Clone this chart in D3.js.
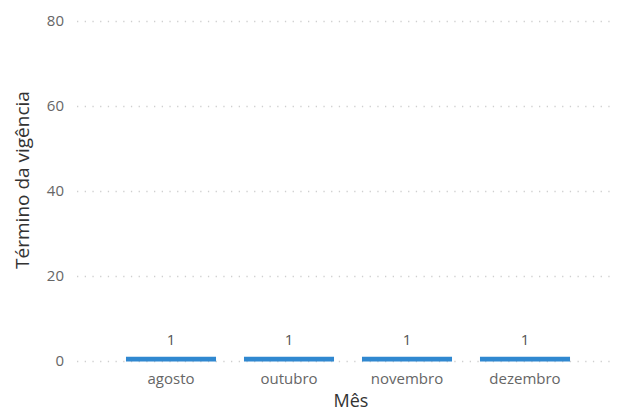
<!DOCTYPE html>
<html>
<head>
<meta charset="utf-8">
<script src="https://cdn.jsdelivr.net/npm/d3@7"></script>
<style>
  body { margin: 0; background: #fff; }
  svg { font-family: "Segoe UI", "Open Sans", sans-serif; }
</style>
</head>
<body>
<div id="Chart"></div>
<script>
// data
const MONTHS = ["agosto", "outubro", "novembro", "dezembro"];
const COUNTS = [1, 1, 1, 1];
const Y_TICKS = [0, 20, 40, 60, 80];

const WIDTH = 620;
const HEIGHT = 413;

const svg = d3.select("#Chart")
    .append("svg")
    .attr("width", WIDTH)
    .attr("height", HEIGHT);

const y = d3.scaleLinear()
    .domain([0, 80])
    .range([361, 21]);

const x = d3.scaleBand()
    .domain(MONTHS)
    .range([112, 584])
    .paddingInner(0.237)
    .paddingOuter(0.1185);

// gridlines
svg.append("g")
    .selectAll("line")
    .data(Y_TICKS)
    .join("line")
    .attr("x1", 77)
    .attr("x2", 612)
    .attr("y1", d => y(d) + 0.5)
    .attr("y2", d => y(d) + 0.5)
    .attr("stroke", "#cfcfcf")
    .attr("stroke-width", 1.3)
    .attr("stroke-dasharray", "1.3,6.4");

// y axis labels
svg.append("g")
    .selectAll("text")
    .data(Y_TICKS)
    .join("text")
    .attr("x", 64)
    .attr("y", d => y(d))
    .attr("dy", "0.35em")
    .attr("text-anchor", "end")
    .attr("fill", "#666")
    .style("font-size", "15px")
    .text(d => d);

// bars
svg.append("g")
    .selectAll("rect")
    .data(MONTHS)
    .join("rect")
    .attr("x", d => x(d))
    .attr("width", x.bandwidth())
    .attr("y", (d, i) => y(COUNTS[i]))
    .attr("height", (d, i) => y(0) - y(COUNTS[i]) + 0.5)
    .attr("fill", "#3088d0");

// data labels
svg.append("g")
    .selectAll("text")
    .data(MONTHS)
    .join("text")
    .attr("x", d => x(d) + x.bandwidth() / 2)
    .attr("y", (d, i) => y(COUNTS[i]) - 12)
    .attr("text-anchor", "middle")
    .attr("fill", "#555")
    .style("font-size", "15px")
    .text((d, i) => COUNTS[i]);

// x axis labels
svg.append("g")
    .selectAll("text")
    .data(MONTHS)
    .join("text")
    .attr("x", d => x(d) + x.bandwidth() / 2)
    .attr("y", 384)
    .attr("text-anchor", "middle")
    .attr("fill", "#666")
    .style("font-size", "15px")
    .text(d => d);

// axis titles
svg.append("text")
    .attr("x", 351)
    .attr("y", 407)
    .attr("text-anchor", "middle")
    .attr("fill", "#333")
    .style("font-size", "18px")
    .text("Mês");

svg.append("text")
    .attr("transform", "translate(29,180) rotate(-90)")
    .attr("text-anchor", "middle")
    .attr("fill", "#333")
    .style("font-size", "19px")
    .text("Término da vigência");
</script>
</body>
</html>
